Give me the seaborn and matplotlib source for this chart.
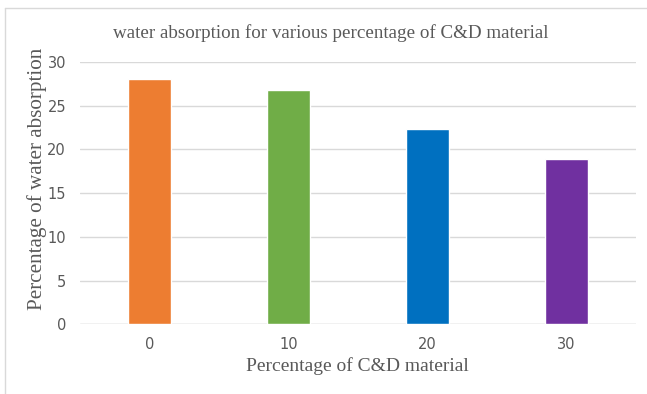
import matplotlib
matplotlib.use("Agg")
import matplotlib.pyplot as plt
import seaborn as sns
import pandas as pd
from matplotlib.lines import Line2D

# C&D replacement levels and measured water absorption (%)
categories = ["0", "10", "20", "30"]
absorption = [28.1, 26.8, 22.3, 18.9]
bar_colors = ["#ED7D31", "#70AD47", "#0070C0", "#7030A0"]
y_ticks = [0, 5, 10, 15, 20, 25, 30]

df = pd.DataFrame({"pct": categories, "absorption": absorption})

sns.set_theme(style="white")
plt.rcParams["font.family"] = ["Liberation Serif", "DejaVu Serif"]

W, H = 647, 394
fig = plt.figure(figsize=(W / 100, H / 100), dpi=100)
left, right, top, bottom = 80, 635.5, 62, 324.3
ax = fig.add_axes([left / W, 1 - bottom / H, (right - left) / W, (bottom - top) / H])

sns.barplot(data=df, x="pct", y="absorption", hue="pct", palette=bar_colors,
            legend=False, width=0.31, saturation=1, ax=ax, zorder=3)

ax.set_ylim(0, 30)
ax.set_xlim(-0.5, 3.5)
ax.set_yticks(y_ticks)
ax.yaxis.grid(True, color="#D9D9D9", linewidth=1, zorder=0)
ax.set_axisbelow(True)
for s in ["top", "right", "left", "bottom"]:
    ax.spines[s].set_visible(False)
ax.axhline(0, color="#D9D9D9", linewidth=1, zorder=1)

tick_family = ["Liberation Sans Narrow", "DejaVu Sans"]
ax.tick_params(axis="both", length=0, colors="#595959")
ax.tick_params(axis="y", pad=10)
ax.tick_params(axis="x", pad=9)
for lbl in ax.get_xticklabels() + ax.get_yticklabels():
    lbl.set_fontfamily(tick_family)
    lbl.set_fontsize(10.5)

ax.set_xlabel("Percentage of C&D material", fontsize=14, color="#595959", labelpad=4)
ax.set_ylabel("Percentage of water absorption", fontsize=15.2, color="#595959")
ax.yaxis.set_label_coords((47 - left) / (right - left), (bottom - 179) / (bottom - top))

fig.text(331 / W, 1 - 33 / H, "water absorption for various percentage of C&D material",
         ha="center", va="center", fontsize=13.7, color="#595959")

# light chart-area frame along top and left edges
fig.add_artist(Line2D([4.5 / W, 4.5 / W], [0, 1 - 7.5 / H],
                      transform=fig.transFigure, color="#D9D9D9", linewidth=1))
fig.add_artist(Line2D([4.5 / W, 1], [1 - 7.5 / H, 1 - 7.5 / H],
                      transform=fig.transFigure, color="#D9D9D9", linewidth=1))

fig.savefig("out.png", dpi=100)
